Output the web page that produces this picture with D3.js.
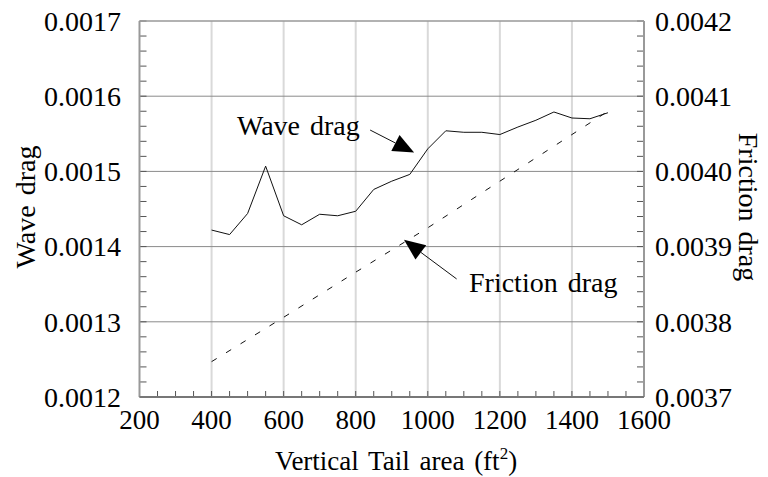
<!DOCTYPE html>
<html>
<head>
<meta charset="utf-8">
<script src="https://cdn.jsdelivr.net/npm/d3@7"></script>
<style>
  html, body { margin: 0; padding: 0; background: #fff; }
  svg { display: block; }
  text { font-family: "Liberation Serif", "Times New Roman", serif; fill: #000; }
</style>
</head>
<body>
<svg id="chart" width="768" height="477"></svg>
<script>
// Vertical tail area sweep (ft^2)
const waveArea = [400, 450, 500, 550, 600, 650, 700, 750, 800, 850, 900, 950, 1000,
                  1050, 1100, 1150, 1200, 1250, 1300, 1350, 1400, 1450, 1500];
// Wave drag coefficient (left axis)
const waveDrag = [0.001422, 0.001416, 0.001444, 0.001507, 0.001441, 0.001429, 0.001443,
                  0.001441, 0.001447, 0.001476, 0.001487, 0.001496, 0.001530, 0.001554,
                  0.001552, 0.001552, 0.001549, 0.001559, 0.001568, 0.001579, 0.001571,
                  0.001570, 0.001578];
// Friction drag coefficient (right axis)
const frictionArea = [400, 600, 800, 1000, 1200, 1400, 1500];
const frictionDrag = [0.003747, 0.003806, 0.003866, 0.003925, 0.003987, 0.004049, 0.004080];

const xTicks = [200, 400, 600, 800, 1000, 1200, 1400, 1600];
const yLeftTicks = [0.0012, 0.0013, 0.0014, 0.0015, 0.0016, 0.0017];
const yRightTicks = [0.0037, 0.0038, 0.0039, 0.0040, 0.0041, 0.0042];

// Callout labels: text position and arrow tail/tip, in data units of the left axis
const callouts = [
  { text: "Wave drag", tx: 237, ty: 135, tail: [840, 0.001555], tip: [962, 0.001525] },
  { text: "Friction drag", tx: 469, ty: 292, tail: [1080, 0.001357], tip: [934, 0.001409] }
];

const svg = d3.select("#chart");
const m = { left: 139.5, right: 644, top: 21, bottom: 397 };

const x = d3.scaleLinear().domain([200, 1600]).range([m.left, m.right]);
const yL = d3.scaleLinear().domain([0.0012, 0.0017]).range([m.bottom, m.top]);
const yR = d3.scaleLinear().domain([0.0037, 0.0042]).range([m.bottom, m.top]);

const FS = 28;

// vertical grid
svg.append("g").selectAll("line").data(xTicks.slice(1, -1)).join("line")
  .attr("x1", d => x(d)).attr("x2", d => x(d))
  .attr("y1", m.top).attr("y2", m.bottom)
  .attr("stroke", "#d9d9d9").attr("stroke-width", 2);

// horizontal grid
svg.append("g").selectAll("line").data(yLeftTicks.slice(1, -1)).join("line")
  .attr("x1", m.left).attr("x2", m.right)
  .attr("y1", d => yL(d)).attr("y2", d => yL(d))
  .attr("stroke", "#8a8a8a").attr("stroke-width", 1);

// minor ticks on the side axes (inward)
const minorY = d3.range(0, 26).map(i => 0.0012 + i * 0.00002);
svg.append("g").selectAll("line").data(minorY).join("line")
  .attr("x1", m.left).attr("x2", m.left + 7)
  .attr("y1", d => yL(d)).attr("y2", d => yL(d))
  .attr("stroke", "#555").attr("stroke-width", 1);
svg.append("g").selectAll("line").data(minorY).join("line")
  .attr("x1", m.right - 7).attr("x2", m.right)
  .attr("y1", d => yL(d)).attr("y2", d => yL(d))
  .attr("stroke", "#555").attr("stroke-width", 1);
// minor ticks along the bottom (upward)
const minorX = d3.range(0, 29).map(i => 200 + i * 50);
svg.append("g").selectAll("line").data(minorX).join("line")
  .attr("x1", d => x(d)).attr("x2", d => x(d))
  .attr("y1", m.bottom).attr("y2", m.bottom - 6)
  .attr("stroke", "#555").attr("stroke-width", 1);

// frame
svg.append("line").attr("x1", m.left).attr("x2", m.right).attr("y1", m.top).attr("y2", m.top)
  .attr("stroke", "#999").attr("stroke-width", 1.5);
svg.append("line").attr("x1", m.left).attr("x2", m.left).attr("y1", m.top).attr("y2", m.bottom)
  .attr("stroke", "#999").attr("stroke-width", 2);
svg.append("line").attr("x1", m.right).attr("x2", m.right).attr("y1", m.top).attr("y2", m.bottom)
  .attr("stroke", "#999").attr("stroke-width", 2);
svg.append("line").attr("x1", m.left).attr("x2", m.right).attr("y1", m.bottom).attr("y2", m.bottom)
  .attr("stroke", "#777").attr("stroke-width", 2);

// tick labels
svg.append("g").selectAll("text").data(xTicks).join("text")
  .attr("x", d => x(d)).attr("y", 429)
  .attr("text-anchor", "middle").attr("font-size", 27)
  .text(d => d);
svg.append("g").selectAll("text").data(yLeftTicks).join("text")
  .attr("x", 121).attr("y", d => yL(d)).attr("dy", "0.35em")
  .attr("text-anchor", "end").attr("font-size", FS)
  .text(d => d.toFixed(4));
svg.append("g").selectAll("text").data(yRightTicks).join("text")
  .attr("x", 655).attr("y", d => yR(d)).attr("dy", "0.35em")
  .attr("text-anchor", "start").attr("font-size", FS)
  .text(d => d.toFixed(4));

// axis titles
const xt = svg.append("text")
  .attr("x", 396).attr("y", 470)
  .attr("text-anchor", "middle").attr("font-size", 27).attr("word-spacing", 3);
xt.append("tspan").text("Vertical Tail area (ft");
xt.append("tspan").attr("dy", -11).attr("font-size", 17).text("2");
xt.append("tspan").attr("dy", 11).text(")");

svg.append("text")
  .attr("transform", "translate(35,207) rotate(-90)")
  .attr("text-anchor", "middle").attr("font-size", FS).attr("word-spacing", 3)
  .text("Wave drag");
svg.append("text")
  .attr("transform", "translate(739,207) rotate(90)")
  .attr("text-anchor", "middle").attr("font-size", FS).attr("word-spacing", 3)
  .text("Friction drag");

// series
svg.append("path")
  .datum(waveArea.map((a, i) => [a, waveDrag[i]]))
  .attr("fill", "none").attr("stroke", "#111").attr("stroke-width", 1)
  .attr("d", d3.line().x(d => x(d[0])).y(d => yL(d[1])));

svg.append("path")
  .datum(frictionArea.map((a, i) => [a, frictionDrag[i]]))
  .attr("fill", "none").attr("stroke", "#111").attr("stroke-width", 1)
  .attr("stroke-dasharray", "6,11")
  .attr("d", d3.line().x(d => x(d[0])).y(d => yR(d[1])));

// callouts with arrowheads
callouts.forEach(c => {
  const x0 = x(c.tail[0]), y0 = yL(c.tail[1]);
  const x1 = x(c.tip[0]), y1 = yL(c.tip[1]);
  const dx = x1 - x0, dy = y1 - y0, len = Math.hypot(dx, dy);
  const ux = dx / len, uy = dy / len;
  const headLen = 21, halfW = 9;
  const bx = x1 - ux * headLen, by = y1 - uy * headLen;
  svg.append("line").attr("x1", x0).attr("y1", y0).attr("x2", bx).attr("y2", by)
    .attr("stroke", "#111").attr("stroke-width", 1);
  svg.append("path")
    .attr("d", `M${x1},${y1}L${bx - uy * halfW},${by + ux * halfW}L${bx + uy * halfW},${by - ux * halfW}Z`)
    .attr("fill", "#000");
  svg.append("text").attr("x", c.tx).attr("y", c.ty)
    .attr("font-size", FS).attr("word-spacing", 3).text(c.text);
});
</script>
</body>
</html>
